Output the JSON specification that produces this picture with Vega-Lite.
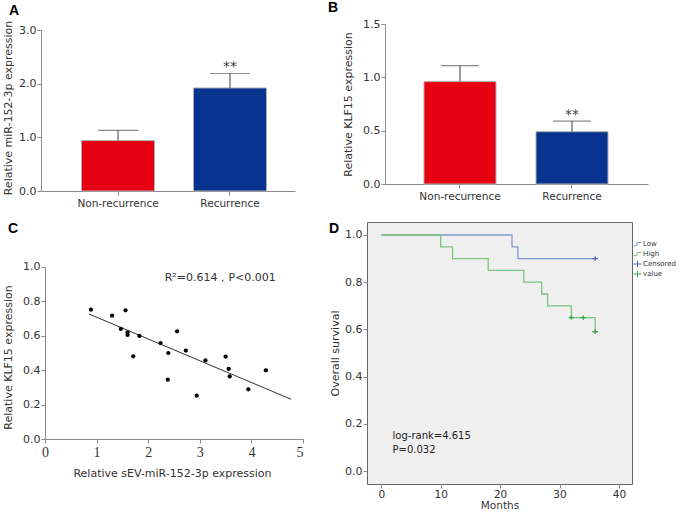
{
  "$schema": "https://vega.github.io/schema/vega-lite/v6.json",
  "padding": {"left": 2, "top": 1, "right": 0, "bottom": 0},
  "background": "white",
  "config": {
    "font": "DejaVu Sans",
    "view": {"stroke": null},
    "axis": {"domainColor": "#8a8a8a", "tickColor": "#8a8a8a", "labelColor": "#333333", "titleColor": "#333333", "labelFont": "DejaVu Sans", "titleFont": "DejaVu Sans", "titleFontWeight": "normal", "labelFontSize": 11, "titleFontSize": 11, "grid": false, "tickSize": 4, "labelPadding": 1},
    "title": {"font": "Liberation Sans", "fontSize": 14, "fontWeight": "bold", "color": "#000000", "anchor": "start", "frame": "group", "baseline": "alphabetic"}
  },
  "datasets": {
    "barsA": [
      {"group": "Non-recurrence", "mean": 0.94, "upper": 1.13, "sig": ""},
      {"group": "Recurrence", "mean": 1.92, "upper": 2.19, "sig": "**"}
    ],
    "barsB": [
      {"group": "Non-recurrence", "mean": 0.96, "upper": 1.11, "sig": ""},
      {"group": "Recurrence", "mean": 0.49, "upper": 0.59, "sig": "**"}
    ],
    "scatter": [
      {"x": 0.89, "y": 0.752}, {"x": 1.30, "y": 0.717}, {"x": 1.56, "y": 0.748}, {"x": 1.47, "y": 0.640},
      {"x": 1.60, "y": 0.620}, {"x": 1.60, "y": 0.605}, {"x": 1.83, "y": 0.599}, {"x": 1.71, "y": 0.481},
      {"x": 2.24, "y": 0.558}, {"x": 2.39, "y": 0.500}, {"x": 2.38, "y": 0.345}, {"x": 2.56, "y": 0.626},
      {"x": 2.73, "y": 0.514}, {"x": 2.94, "y": 0.252}, {"x": 3.11, "y": 0.457}, {"x": 3.50, "y": 0.479},
      {"x": 3.56, "y": 0.407}, {"x": 3.58, "y": 0.364}, {"x": 3.94, "y": 0.289}, {"x": 4.28, "y": 0.399}
    ],
    "fit": [{"x": 0.85, "y": 0.727}, {"x": 4.77, "y": 0.231}],
    "noteC": [{"x": 2.32, "y": 0.938, "label": "R²=0.614，P<0.001"}],
    "km": [
      {"series": "Low", "month": 0, "surv": 1.0},
      {"series": "Low", "month": 22, "surv": 0.95},
      {"series": "Low", "month": 23, "surv": 0.90},
      {"series": "Low", "month": 36, "surv": 0.90},
      {"series": "High", "month": 0, "surv": 1.0},
      {"series": "High", "month": 10, "surv": 0.95},
      {"series": "High", "month": 12, "surv": 0.90},
      {"series": "High", "month": 18, "surv": 0.85},
      {"series": "High", "month": 24, "surv": 0.80},
      {"series": "High", "month": 27, "surv": 0.75},
      {"series": "High", "month": 28, "surv": 0.70},
      {"series": "High", "month": 32, "surv": 0.65},
      {"series": "High", "month": 36, "surv": 0.59}
    ],
    "censor": [
      {"series": "Censored", "month": 36, "surv": 0.90},
      {"series": "value", "month": 32, "surv": 0.65},
      {"series": "value", "month": 34, "surv": 0.65},
      {"series": "value", "month": 36, "surv": 0.59}
    ],
    "noteD": [
      {"month": 1.9, "surv": 0.148, "label": "log-rank=4.615"},
      {"month": 1.9, "surv": 0.089, "label": "P=0.032"}
    ]
  },
  "resolve": {"scale": {"color": "independent", "shape": "independent"}},
  "bounds": "full",
  "spacing": 12,
  "vconcat": [
    {
      "bounds": "full",
      "spacing": 33,
      "resolve": {"scale": {"color": "independent", "shape": "independent"}},
      "hconcat": [
        {
          "title": {"text": "A", "offset": 2, "dx": -32},
          "width": 254,
          "height": 167,
          "data": {"name": "barsA"},
          "encoding": {
            "x": {"field": "group", "type": "nominal", "sort": null,
              "scale": {"paddingInner": 0, "paddingOuter": 0.134, "align": 0.7},
              "axis": {"title": null, "labelAngle": 0, "labelFontSize": 10.5, "labelPadding": 3}}
          },
          "layer": [
            {
              "mark": {"type": "bar", "size": 73, "stroke": "#b0b0b0", "strokeWidth": 1},
              "encoding": {
                "y": {"field": "mean", "type": "quantitative", "scale": {"domain": [0, 3.112], "nice": false},
                  "axis": {"values": [0, 1, 2, 3], "format": ".1f", "title": "Relative miR-152-3p expression", "titlePadding": 5, "domainDash": [161, 40]}},
                "color": {"field": "group", "type": "nominal", "scale": {"domain": ["Non-recurrence", "Recurrence"], "range": ["#e60012", "#07338f"]}, "legend": null}
              }
            },
            {
              "mark": {"type": "rule", "color": "#5a5a5a", "strokeWidth": 1.2},
              "encoding": {"y": {"field": "mean", "type": "quantitative"}, "y2": {"field": "upper"}}
            },
            {
              "mark": {"type": "tick", "size": 40, "thickness": 1.2, "color": "#5a5a5a"},
              "encoding": {"y": {"field": "upper", "type": "quantitative"}}
            },
            {
              "mark": {"type": "text", "baseline": "alphabetic", "fontSize": 14, "color": "#444444", "dy": -2},
              "encoding": {"y": {"field": "upper", "type": "quantitative"}, "text": {"field": "sig"}}
            }
          ]
        },
        {
          "title": {"text": "B", "offset": 3, "dx": -57},
          "width": 263,
          "height": 160,
          "data": {"name": "barsB"},
          "encoding": {
            "x": {"field": "group", "type": "nominal", "sort": null,
              "scale": {"paddingInner": 0, "paddingOuter": 0.174, "align": 0.487},
              "axis": {"title": null, "labelAngle": 0, "labelFontSize": 10.5, "labelPadding": 3}}
          },
          "layer": [
            {
              "mark": {"type": "bar", "size": 72, "stroke": "#b0b0b0", "strokeWidth": 1},
              "encoding": {
                "y": {"field": "mean", "type": "quantitative", "scale": {"domain": [0, 1.5], "nice": false},
                  "axis": {"values": [0, 0.5, 1, 1.5], "format": ".1f", "title": "Relative KLF15 expression", "titlePadding": 9}},
                "color": {"field": "group", "type": "nominal", "scale": {"domain": ["Non-recurrence", "Recurrence"], "range": ["#e60012", "#07338f"]}, "legend": null}
              }
            },
            {
              "mark": {"type": "rule", "color": "#5a5a5a", "strokeWidth": 1.2},
              "encoding": {"y": {"field": "mean", "type": "quantitative"}, "y2": {"field": "upper"}}
            },
            {
              "mark": {"type": "tick", "size": 38, "thickness": 1.2, "color": "#5a5a5a"},
              "encoding": {"y": {"field": "upper", "type": "quantitative"}}
            },
            {
              "mark": {"type": "text", "baseline": "alphabetic", "fontSize": 14, "color": "#444444", "dy": -2},
              "encoding": {"y": {"field": "upper", "type": "quantitative"}, "text": {"field": "sig"}}
            }
          ]
        }
      ]
    },
    {
      "bounds": "full",
      "spacing": 24,
      "resolve": {"scale": {"color": "independent", "shape": "independent"}},
      "hconcat": [
        {
          "title": {"text": "C", "offset": -14, "dx": -33},
          "width": 262,
          "height": 217,
          "encoding": {
            "x": {"field": "x", "type": "quantitative", "scale": {"domain": [-0.0775, 5], "nice": false, "zero": false},
              "axis": {"values": [0, 1, 2, 3, 4, 5], "format": "d", "labelFont": "Liberation Serif", "labelFontSize": 14, "labelPadding": 2, "title": "Relative sEV-miR-152-3p expression", "titlePadding": 8, "domainDash": [0, 4, 262, 40]}},
            "y": {"field": "y", "type": "quantitative", "scale": {"domain": [0, 1.2616], "nice": false},
              "axis": {"values": [0, 0.2, 0.4, 0.6, 0.8, 1.0], "format": ".1f", "title": "Relative KLF15 expression", "titlePadding": 9, "titleY": 135, "offset": -4, "domainDash": [172, 60]}}
          },
          "layer": [
            {"data": {"name": "fit"}, "mark": {"type": "line", "color": "#333333", "strokeWidth": 1}},
            {"data": {"name": "scatter"}, "mark": {"type": "circle", "size": 18, "color": "#000000", "opacity": 1}},
            {"data": {"name": "noteC"}, "mark": {"type": "text", "align": "left", "baseline": "middle", "fontSize": 11, "color": "#333333"}, "encoding": {"text": {"field": "label"}}}
          ]
        },
        {
          "title": {"text": "D", "offset": -14, "dx": -38},
          "width": 265,
          "height": 262,
          "view": {"fill": "#efefef", "stroke": "#666666", "strokeWidth": 1},
          "encoding": {
            "x": {"field": "month", "type": "quantitative", "scale": {"domain": [-2.4, 42.2], "nice": false, "zero": false},
              "axis": {"values": [0, 10, 20, 30, 40], "domain": false, "labelPadding": 1, "title": "Months", "titlePadding": 1, "titleFontSize": 10.5, "labelFontSize": 10.5}},
            "y": {"field": "surv", "type": "quantitative", "scale": {"domain": [-0.055, 1.055], "nice": false, "zero": false},
              "axis": {"values": [0, 0.2, 0.4, 0.6, 0.8, 1.0], "format": ".1f", "domain": false, "title": "Overall survival", "titlePadding": 4}}
          },
          "layer": [
            {
              "data": {"name": "km"},
              "mark": {"type": "line", "interpolate": "step-after", "strokeWidth": 1.3},
              "encoding": {
                "stroke": {"field": "series", "type": "nominal", "scale": {"domain": ["Low", "High"], "range": ["#8796d2", "#7cc57e"]}, "legend": null},
                "detail": {"field": "series"}
              }
            },
            {
              "data": {"name": "censor"},
              "mark": {"type": "point", "filled": false, "size": 30, "strokeWidth": 1.3, "opacity": 1},
              "encoding": {
                "color": {"field": "series", "type": "nominal", "scale": {"domain": ["Low", "High", "Censored", "value"], "range": ["#8796d2", "#7cc57e", "#4a62c4", "#35a548"]},
                  "legend": {"title": " ", "titleFontSize": 6, "titlePadding": 12, "labelFontSize": 7, "labelFont": "DejaVu Sans", "labelColor": "#333333", "symbolSize": 60, "symbolStrokeWidth": 1, "rowPadding": 2, "clipHeight": 8, "offset": 1, "padding": 0, "labelOffset": 1}},
                "shape": {"field": "series", "type": "nominal", "scale": {"domain": ["Low", "High", "Censored", "value"], "range": ["M-1,0.4H-0.1V-0.4H1", "M-1,0.4H-0.1V-0.4H1", "M-1,0H1M0,-0.8V0.8", "M-1,0H1M0,-0.8V0.8"]},
                  "legend": {"title": " ", "titleFontSize": 6, "titlePadding": 12, "labelFontSize": 7, "labelFont": "DejaVu Sans", "labelColor": "#333333", "symbolSize": 60, "symbolStrokeWidth": 1, "rowPadding": 2, "clipHeight": 8, "offset": 1, "padding": 0, "labelOffset": 1}}
              }
            },
            {
              "data": {"name": "noteD"},
              "mark": {"type": "text", "align": "left", "baseline": "middle", "fontSize": 10, "color": "#222222"},
              "encoding": {"text": {"field": "label"}}
            }
          ]
        }
      ]
    }
  ]
}
